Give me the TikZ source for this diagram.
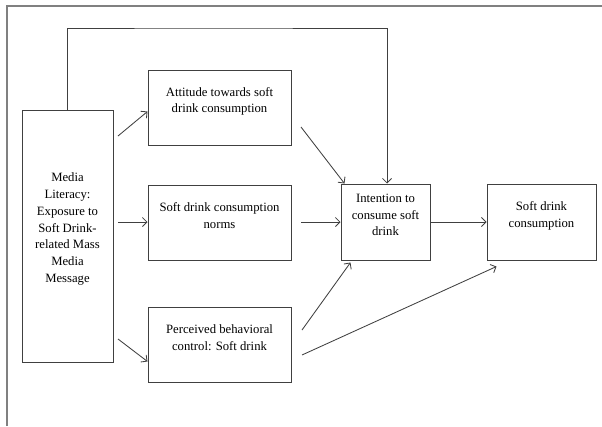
\documentclass[tikz,border=0pt]{standalone}
\usepackage{fontspec}
\setmainfont{Liberation Serif}
\usetikzlibrary{arrows.meta,calc}
\begin{document}
\begin{tikzpicture}[x=1pt,y=-1pt,
  box/.style={draw=black!75,line width=1pt,rectangle,inner sep=0pt},
  lbl/.style={align=center,font=\fontsize{12.7}{16.7}\selectfont,text=black,inner sep=0pt},
  arr/.style={draw=black!75,line width=0.85pt,-{Straight Barb[length=4.5pt,width=9pt]}},
  frame/.style={draw=black!50,line width=1.4pt}]
\useasboundingbox (0,0) rectangle (602,426);
% outer frame
\draw[frame] (7,426) -- (7,6) -- (602,6);
% boxes
\node[box,minimum width=91pt,minimum height=252pt] (media) at (67.5,236) {};
\node[box,minimum width=143pt,minimum height=75pt] (att) at (219.5,107.5) {};
\node[box,minimum width=143pt,minimum height=75pt] (norm) at (219.5,222.5) {};
\node[box,minimum width=143pt,minimum height=75pt] (pbc) at (219.5,344.5) {};
\node[box,minimum width=89pt,minimum height=76pt] (int) at (385.5,222) {};
\node[box,minimum width=109pt,minimum height=76pt] (cons) at (541.5,222) {};
% labels
\node[lbl] (mediaL) at (67.5,229) {Media\\Literacy:\\Exposure to\\Soft Drink-\\related Mass\\Media\\Message};
\node[lbl] (attL) at (219.5,101.5) {Attitude towards soft\\drink consumption};
\node[lbl] (normL) at (219.5,215.5) {Soft drink consumption\\norms};
\node[lbl] (pbcL) at (219.5,337.5) {Perceived behavioral\\control: Soft drink};
\node[lbl] (intL) at (385.5,215) {Intention to\\consume soft\\drink};
\node[lbl] (consL) at (541.5,216) {Soft drink\\consumption};
% connector start points
\coordinate (m1) at (118,136);
\coordinate (m2) at (118,222);
\coordinate (m3) at (118,339);
\coordinate (a1) at (301,127);
\coordinate (n1) at (301,222);
\coordinate (p1) at (302,330);
\coordinate (p2) at (302,355);
\coordinate (fb) at (200,28);
% connectors
\draw[arr] (m1) -- ($(att.west)+(0,4)$);
\draw[arr] (m2) -- (norm.west |- m2);
\draw[arr] (m3) -- ($(pbc.north west)+(0,55)$);
\draw[arr] (a1) -- ($(int.north west)+(4,0)$);
\draw[arr] (n1) -- (int.west |- n1);
\draw[arr] (p1) -- ($(int.south west)+(10,2)$);
\draw[arr] (p2) -- ($(cons.south west)+(10,6)$);
\draw[arr] (int.east) -- (cons.west);
\draw[arr] (media.north) |- (fb) -| ($(int.north)+(1.5,0)$);
\end{tikzpicture}
\end{document}
